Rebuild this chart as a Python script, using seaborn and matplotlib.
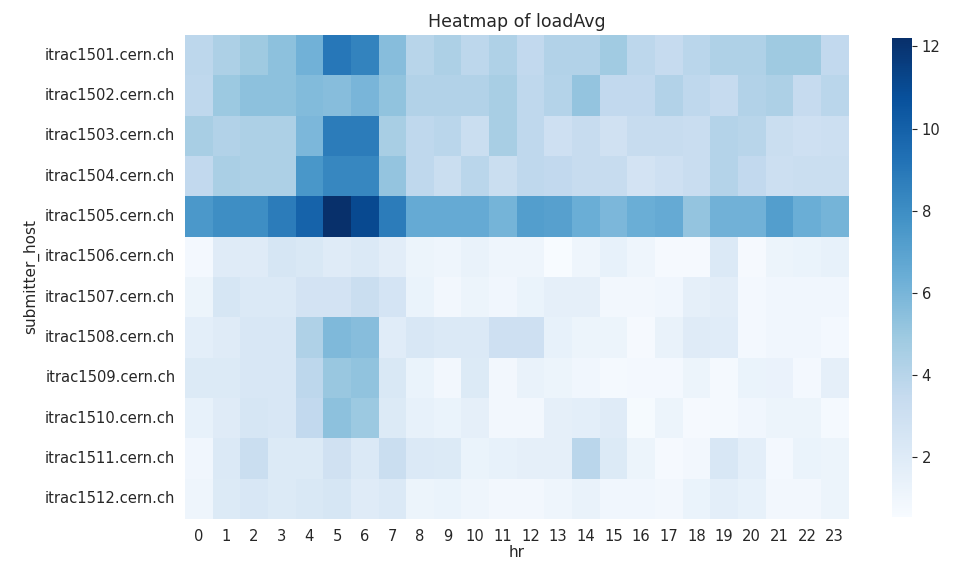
import numpy as np
import pandas as pd
import matplotlib
matplotlib.use("Agg")
import matplotlib.pyplot as plt
import seaborn as sns

sns.set_style("darkgrid")
plt.rcParams['font.family'] = ['DejaVu Sans']

hosts = [f"itrac15{i:02d}.cern.ch" for i in range(1, 13)]
hours = list(range(24))

# mean loadAvg per host and hour
r1501 = [3.8, 4.4, 4.9, 5.4, 6.2, 9.0, 8.5, 5.6, 4.0, 4.4, 3.8, 4.3, 3.6, 4.2, 4.2, 4.8, 3.8, 3.5, 3.9, 4.3, 4.3, 4.9, 4.9, 3.6]
r1502 = [3.7, 5.0, 5.4, 5.4, 5.7, 5.6, 6.0, 5.3, 4.2, 4.2, 4.2, 4.6, 3.7, 4.1, 5.2, 3.6, 3.6, 4.2, 3.7, 3.5, 4.2, 4.4, 3.5, 3.9]
r1503 = [4.6, 4.2, 4.4, 4.4, 5.9, 8.8, 8.8, 4.6, 3.7, 3.9, 3.2, 4.6, 3.7, 3.0, 3.4, 2.9, 3.4, 3.4, 3.3, 4.1, 4.0, 3.2, 3.0, 3.1]
r1504 = [3.6, 4.5, 4.4, 4.4, 7.6, 8.3, 8.3, 5.2, 3.7, 3.2, 3.9, 3.2, 3.7, 3.6, 3.4, 3.4, 2.7, 3.0, 3.3, 4.1, 3.6, 3.1, 3.2, 3.2]
r1505 = [7.5, 8.0, 8.0, 8.8, 9.9, 12.2, 11.1, 8.8, 6.6, 6.6, 6.6, 6.1, 7.2, 7.1, 6.4, 5.9, 6.4, 6.6, 5.2, 6.2, 6.2, 7.2, 6.4, 6.1]
r1506 = [0.8, 2.0, 2.0, 2.5, 2.3, 2.0, 2.2, 1.8, 1.2, 1.1, 1.4, 1.1, 1.1, 0.55, 1.1, 1.5, 1.1, 0.7, 0.7, 2.2, 0.7, 1.2, 1.3, 1.5]
r1507 = [1.2, 2.5, 2.2, 2.2, 2.7, 2.7, 3.2, 2.6, 1.3, 0.9, 1.2, 1.0, 1.3, 1.6, 1.6, 0.9, 0.9, 1.0, 1.6, 1.8, 0.8, 1.0, 1.0, 1.0]
r1508 = [1.7, 2.0, 2.4, 2.4, 4.3, 5.8, 5.6, 1.9, 2.4, 2.2, 2.2, 3.0, 3.0, 1.5, 1.2, 1.2, 0.7, 1.4, 2.0, 1.9, 0.8, 1.0, 1.0, 0.8]
r1509 = [2.1, 2.1, 2.4, 2.4, 3.8, 5.1, 5.3, 2.3, 1.3, 0.9, 2.1, 0.9, 1.4, 1.2, 1.0, 0.75, 0.8, 0.8, 1.2, 0.75, 1.3, 1.35, 0.8, 1.6]
r1510 = [1.5, 2.0, 2.5, 2.4, 3.6, 5.4, 5.0, 2.1, 1.5, 1.3, 1.6, 0.9, 0.9, 1.6, 1.7, 2.0, 0.65, 1.2, 0.7, 0.75, 1.0, 1.2, 1.2, 0.75]
r1511 = [1.0, 2.2, 3.2, 2.1, 2.1, 2.9, 2.2, 3.2, 2.2, 2.1, 1.3, 1.5, 1.6, 1.6, 3.9, 2.1, 1.2, 0.7, 0.9, 2.4, 1.7, 0.8, 1.3, 1.2]
r1512 = [1.1, 2.1, 2.4, 2.1, 2.3, 2.5, 2.0, 2.2, 1.2, 1.3, 1.1, 0.9, 0.9, 1.1, 1.4, 1.0, 1.0, 0.9, 1.3, 1.7, 1.5, 0.9, 0.9, 1.2]

rows = [r1501, r1502, r1503, r1504, r1505, r1506, r1507, r1508, r1509, r1510, r1511, r1512]
df = pd.DataFrame(rows, index=pd.Index(hosts, name="submitter_host"),
                  columns=pd.Index(hours, name="hr"))

fig = plt.figure(figsize=(9.61, 5.62), dpi=100)
ax = fig.add_axes([0.1925, 0.0765, 0.6905, 0.8615])
cax = fig.add_axes([0.928, 0.08, 0.021, 0.852])

sns.heatmap(df, cmap="Blues", ax=ax, cbar_ax=cax)
ax.set_title("Heatmap of loadAvg", fontsize=12.5)
ax.set_xlabel("hr", fontsize=11, labelpad=1)
ax.set_ylabel("submitter_host", fontsize=11)
ax.tick_params(labelsize=10.6)
cax.tick_params(labelsize=10.6)
plt.setp(ax.get_yticklabels(), rotation=0)
plt.setp(ax.get_xticklabels(), rotation=0)

fig.savefig("out.png", dpi=100)
